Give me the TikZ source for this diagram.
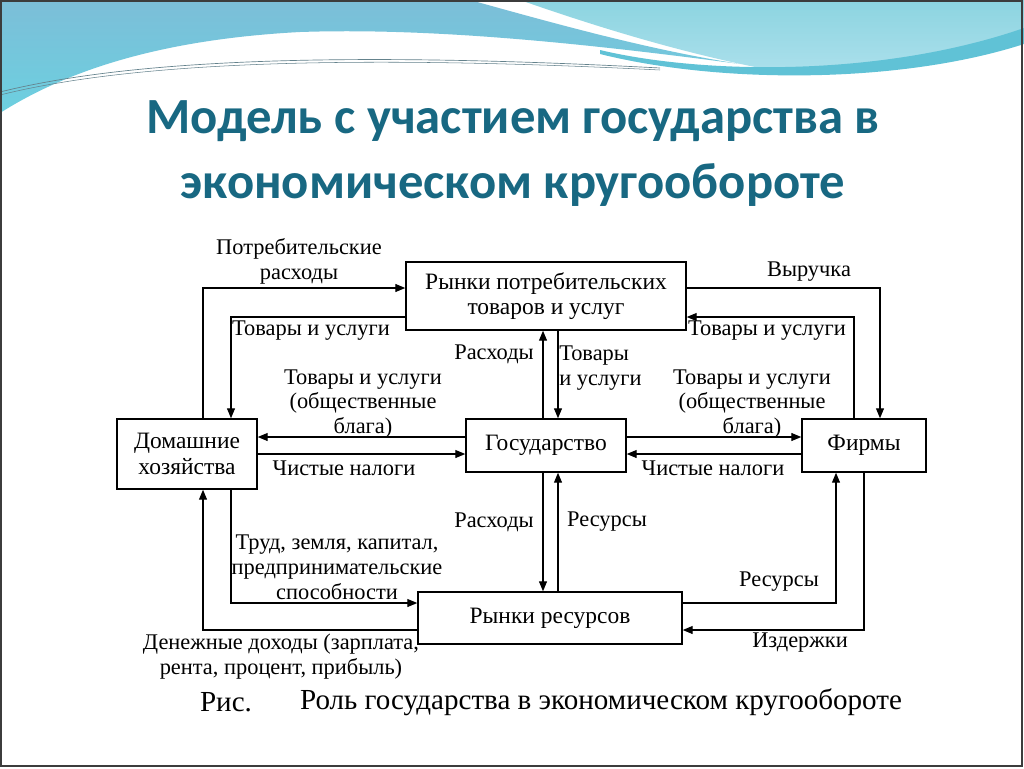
\documentclass[tikz,border=0pt]{standalone}
\usepackage{fontspec}
\setmainfont{Liberation Serif}
\newfontfamily\titlefont{Carlito}
\usetikzlibrary{calc,arrows.meta}
\definecolor{titleteal}{RGB}{24,104,130}
\definecolor{waveA1}{RGB}{124,190,216}
\definecolor{waveA2}{RGB}{108,208,224}
\definecolor{waveB1}{RGB}{140,212,224}
\definecolor{waveB2}{RGB}{172,224,236}
\definecolor{waveC}{RGB}{96,194,214}
\definecolor{waveline}{RGB}{100,130,140}
\definecolor{frame}{RGB}{60,60,60}
\newcommand\lblfont{\fontsize{16.8}{18.6}\selectfont}
\newcommand\boxfont{\fontsize{17.6}{19}\selectfont}
\newcommand\captfont{\fontsize{21.8}{24}\selectfont}
\newcommand\ttlfont{\titlefont\bfseries\fontsize{38}{45}\selectfont}
\begin{document}
\begin{tikzpicture}[x=0.75pt,y=-0.75pt,
  box/.style={draw, line width=1.1pt, inner sep=0pt, align=center, font=\boxfont},
  lab/.style={inner sep=0pt, align=center, font=\lblfont},
  arr/.style={line width=0.9pt, -{Triangle[length=7.5pt,width=6pt]}},
  ttl/.style={inner sep=0pt, font=\ttlfont, text=titleteal},
  capt/.style={inner sep=0pt, font=\captfont}]
\useasboundingbox (0,0) rectangle (1024,768);
\fill[white] (0,0) rectangle (1024,768);
% decorative waves
\shade[top color=waveA1, bottom color=waveA2]
  (0,0) -- (470,0) .. controls (560,25) and (650,50) .. (740,64)
  .. controls (560,40) and (420,28) .. (300,32)
  .. controls (150,40) and (60,75) .. (0,113) -- cycle;
\shade[top color=waveB1, bottom color=waveB2]
  (520,0) -- (1024,0) -- (1024,30) .. controls (950,62) and (850,74) .. (760,68)
  .. controls (680,52) and (600,28) .. (520,0) -- cycle;
\fill[waveC]
  (600,50) .. controls (700,74) and (880,78) .. (1024,28) -- (1024,44)
  .. controls (900,84) and (720,84) .. (600,54) -- cycle;
\draw[waveline, line width=0.5pt] (0,92) .. controls (120,62) and (320,50) .. (660,68);
\draw[waveline, line width=0.4pt] (0,95) .. controls (120,65) and (320,53) .. (660,70);
\draw[frame, line width=1.5pt] (1,1) rectangle (1022,766);
% title
\node[ttl] (t1) at (513,121) {Модель с участием государства в};
\node[ttl] (t2) at (513,185) {экономическом кругообороте};
% boxes
\node[box, minimum width=210pt, minimum height=51pt] (cm) at (546,296) {Рынки потребительских\\товаров и услуг};
\node[box, minimum width=105pt, minimum height=52.5pt] (hh) at (187,454) {Домашние\\хозяйства};
\node[box, minimum width=120pt, minimum height=39.75pt] (gov) at (546,445.5) {Государство};
\node[box, minimum width=93pt, minimum height=39.75pt] (firms) at (864,445.5) {Фирмы};
\node[box, minimum width=198pt, minimum height=39pt] (rm) at (550,618) {Рынки ресурсов};
% outer loop connectors
\draw[arr] ($(hh.north)+(16,0)$) |- ($(cm.west)+(0,-8)$);
\draw[arr] ($(cm.west)+(0,21)$) -| ($(hh.north)+(44,0)$);
\draw[arr] ($(cm.east)+(0,-8)$) -| ($(firms.north)+(16,0)$);
\draw[arr] ($(firms.north)+(-10,0)$) |- ($(cm.east)+(0,21)$);
\draw[arr] ($(hh.south)+(44,0)$) |- ($(rm.west)+(0,-15)$);
\draw[arr] ($(rm.west)+(0,12)$) -| ($(hh.south)+(16,0)$);
\draw[arr] ($(rm.east)+(0,-15)$) -| ($(firms.south)+(-28,0)$);
\draw[arr] (firms.south) |- ($(rm.east)+(0,12)$);
% government vertical connectors
\coordinate (g1) at ($(gov.north)+(-3,0)$);
\coordinate (g2) at ($(gov.north)+(12,0)$);
\coordinate (g3) at ($(gov.south)+(-3,0)$);
\coordinate (g4) at ($(gov.south)+(12,0)$);
\draw[arr] (g1) -- (g1 |- cm.south);
\draw[arr] (g2 |- cm.south) -- (g2);
\draw[arr] (g3) -- (g3 |- rm.north);
\draw[arr] (g4 |- rm.north) -- (g4);
% government horizontal connectors
\coordinate (h1) at ($(gov.west)+(0,-8.5)$);
\coordinate (h2) at ($(gov.west)+(0,8.5)$);
\coordinate (h3) at ($(gov.east)+(0,-8.5)$);
\coordinate (h4) at ($(gov.east)+(0,8.5)$);
\draw[arr] (h1) -- (h1 -| hh.east);
\draw[arr] (h2 -| hh.east) -- (h2);
\draw[arr] (h3) -- (h3 -| firms.west);
\draw[arr] (h4 -| firms.west) -- (h4);
% labels
\node[lab] (l1) at (299,261) {Потребительские\\расходы};
\node[lab] (l2) at (311,331) {Товары и услуги};
\node[lab] (l3) at (363,404) {Товары и услуги\\(общественные\\блага)};
\node[lab] (l4) at (494,354) {Расходы};
\node[lab, anchor=west, align=left] (l5) at (559,368) {Товары\\и услуги};
\node[lab] (l6) at (809,272) {Выручка};
\node[lab] (l7) at (767,331) {Товары и услуги};
\node[lab] (l8) at (752,404) {Товары и услуги\\(общественные\\блага)};
\node[lab] (l9) at (344,468) {Чистые налоги};
\node[lab] (l10) at (713,468) {Чистые налоги};
\node[lab] (l11) at (494,522) {Расходы};
\node[lab] (l12) at (607,522) {Ресурсы};
\node[lab] (l13) at (337,567) {Труд, земля, капитал,\\предпринимательские\\способности};
\node[lab] (l14) at (779,582) {Ресурсы};
\node[lab] (l15) at (800,643) {Издержки};
\node[lab] (l16) at (281,657) {Денежные доходы (зарплата,\\рента, процент, прибыль)};
\node[capt] (c1) at (226,702) {Рис.};
\node[capt] (c2) at (601,702) {Роль государства в экономическом кругообороте};
\end{tikzpicture}
\end{document}
